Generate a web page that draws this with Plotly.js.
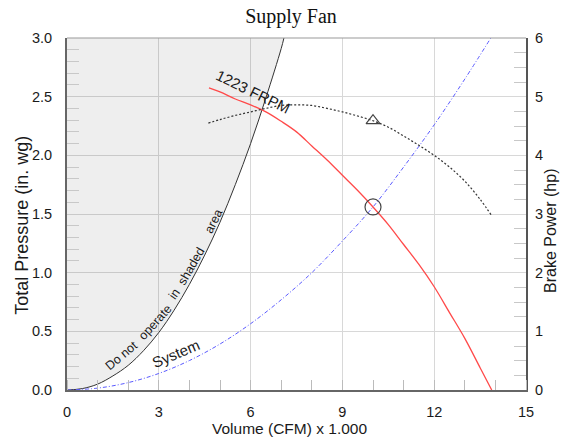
<!DOCTYPE html>
<html>
<head>
<meta charset="utf-8">
<script src="https://cdn.plot.ly/plotly-3.0.1.min.js"></script>
<style>html,body{margin:0;padding:0;background:#fff;}#chart{width:562px;height:440px;}</style>
</head>
<body>
<div id="chart"></div>
<script>
// Volume (CFM x 1000) and pressure (in. wg) / brake power (hp)
const stallQ = [0, 0.5, 1, 1.5, 2, 2.5, 3, 3.5, 4, 4.5, 5, 5.5, 6, 6.5, 7, 7.09];
const stallP = [0, 0.012, 0.05, 0.12, 0.21, 0.335, 0.49, 0.68, 0.9, 1.15, 1.43, 1.75, 2.1, 2.49, 2.91, 3.0];

const fanQ = [4.64, 5.0, 5.5, 6.0, 6.5, 7.0, 7.5, 8.0, 8.5, 9.0, 9.5, 10.0, 10.5, 11.0, 11.5, 12.0, 12.5, 13.0, 13.5, 13.88];
const fanP = [2.575, 2.54, 2.48, 2.43, 2.37, 2.29, 2.20, 2.08, 1.96, 1.83, 1.70, 1.56, 1.41, 1.24, 1.07, 0.88, 0.66, 0.44, 0.19, 0.0];

const sysQ = [0, 1, 2, 3, 4, 5, 6, 7, 8, 9, 10, 11, 12, 13, 13.85];
const sysP = [0, 0.016, 0.063, 0.141, 0.251, 0.392, 0.565, 0.769, 1.00, 1.27, 1.56, 1.90, 2.26, 2.65, 3.0];

const bhpQ = [4.62, 5.0, 5.5, 6.0, 6.5, 7.0, 7.5, 8.0, 8.5, 9.0, 9.5, 10.0, 10.5, 11.0, 11.5, 12.0, 12.5, 13.0, 13.5, 13.88];
const bhpV = [4.55, 4.61, 4.68, 4.74, 4.80, 4.85, 4.86, 4.85, 4.80, 4.74, 4.67, 4.59, 4.48, 4.33, 4.17, 4.00, 3.80, 3.56, 3.25, 2.97];

const opQ = [10.0], opP = [1.56];
const opBhpQ = [10.0], opBhp = [4.59];

const xTicks = [0, 3, 6, 9, 12, 15];
const fanLabel = "1223 FRPM";
const sysLabel = "System";
const warnWords = ["Do not", "operate", "in", "shaded", "area"];

const SANS = "Liberation Sans, Arial, sans-serif";
const INK = '#1a1a1a';

const traces = [
  {x: stallQ, y: stallP, mode: 'lines', fill: 'tozerox', fillcolor: 'rgba(0,0,0,0.068)',
   line: {color: '#333', width: 1, shape: 'spline', simplify: false}, hoverinfo: 'skip'},
  {x: sysQ, y: sysP, mode: 'lines', line: {color: 'rgb(90,90,255)', width: 1, dash: '4px,2px,1px,2px', shape: 'spline', simplify: false}},
  {x: fanQ, y: fanP, mode: 'lines', line: {color: '#ff4a4a', width: 1.3, shape: 'spline', simplify: false}},
  {x: bhpQ, y: bhpV, yaxis: 'y2', mode: 'lines', line: {color: '#333', width: 1.2, dash: '2px,2px', shape: 'spline', simplify: false}},
  {x: opQ, y: opP, mode: 'markers', marker: {symbol: 'circle-open', size: 16, color: '#444', line: {width: 1.2}}},
  {x: opBhpQ, y: opBhp, yaxis: 'y2', mode: 'markers', marker: {symbol: 'triangle-up-open', size: 12, color: '#444', line: {width: 1.2}}}
];

const warnPos = [[1.77, 0.29, -40], [2.86, 0.575, -48], [3.52, 0.815, -55], [4.07, 1.055, -60], [4.80, 1.44, -64]];
const annotations = warnWords.map((w, i) => ({
  x: warnPos[i][0], y: warnPos[i][1], xref: 'x', yref: 'y', text: w, showarrow: false,
  textangle: warnPos[i][2], font: {family: SANS, size: 12.5, color: INK}
}));
annotations.push({x: 6.08, y: 2.54, xref: 'x', yref: 'y', text: fanLabel, showarrow: false, textangle: 26,
  font: {family: SANS, size: 15, color: INK}});
annotations.push({x: 3.56, y: 0.307, xref: 'x', yref: 'y', text: sysLabel, showarrow: false, textangle: -23,
  font: {family: SANS, size: 15, color: INK}});
annotations.push({x: (289 - 67) / 459, y: (390 - 428) / 352, xref: 'paper', yref: 'paper', xanchor: 'center', yanchor: 'middle',
  text: 'Volume (CFM) x 1.000', showarrow: false, font: {family: SANS, size: 15.5, color: INK}});
annotations.push({x: 1 + (550 - 526) / 459, y: (390 - 231) / 352, xref: 'paper', yref: 'paper', xanchor: 'center', yanchor: 'middle',
  text: 'Brake Power (hp)', textangle: -90, showarrow: false, font: {family: SANS, size: 16, color: INK}});
annotations.push({x: (21.7 - 67) / 459, y: (390 - 225) / 352, xref: 'paper', yref: 'paper', xanchor: 'center', yanchor: 'middle',
  text: 'Total Pressure (in. wg)', textangle: -90, showarrow: false, font: {family: SANS, size: 18, color: INK}});

const layout = {
  width: 562, height: 440,
  margin: {l: 67, r: 36, t: 38, b: 50},
  paper_bgcolor: '#fff', plot_bgcolor: '#fff',
  showlegend: false,
  title: {text: 'Supply Fan', font: {family: 'Liberation Serif, Times New Roman, serif', size: 20, color: '#111'},
    x: 291 / 562, xref: 'container', xanchor: 'center', y: 1 - 16 / 440, yref: 'container', yanchor: 'middle'},
  xaxis: {range: [0, 15], tickvals: xTicks, ticks: '', showgrid: true, gridcolor: '#d8d8d8', gridwidth: 1,
    zeroline: false, showline: true, linecolor: '#666', linewidth: 2, ticklabelstandoff: 8,
    tickfont: {family: SANS, size: 14.5, color: INK},
    minor: {ticks: 'inside', dtick: 1, ticklen: 10, tickcolor: '#bbb', tickwidth: 1, showgrid: false}},
  yaxis: {range: [0, 3], dtick: 0.5, tickformat: '.1f', ticks: '', showgrid: true, gridcolor: '#d8d8d8', gridwidth: 1,
    zeroline: false, showline: true, linecolor: '#666', linewidth: 2, ticklabelstandoff: 10,
    tickfont: {family: SANS, size: 14.5, color: INK},
    minor: {ticks: 'inside', dtick: 0.1, ticklen: 12, tickcolor: '#c8c8c8', tickwidth: 1, showgrid: false}},
  yaxis2: {range: [0, 6], dtick: 1, overlaying: 'y', side: 'right', ticks: '', showgrid: false,
    zeroline: false, showline: true, linecolor: '#555', linewidth: 2, ticklabelstandoff: 4,
    tickfont: {family: SANS, size: 14.5, color: INK},
    minor: {ticks: 'inside', dtick: 0.25, ticklen: 12, tickcolor: '#c8c8c8', tickwidth: 1, showgrid: false}},
  shapes: [{type: 'line', xref: 'paper', yref: 'paper', x0: 0, x1: 1, y0: 1, y1: 1, line: {color: '#999', width: 1}}],
  annotations: annotations
};

Plotly.newPlot('chart', traces, layout, {displayModeBar: false, staticPlot: true});
</script>
</body>
</html>
